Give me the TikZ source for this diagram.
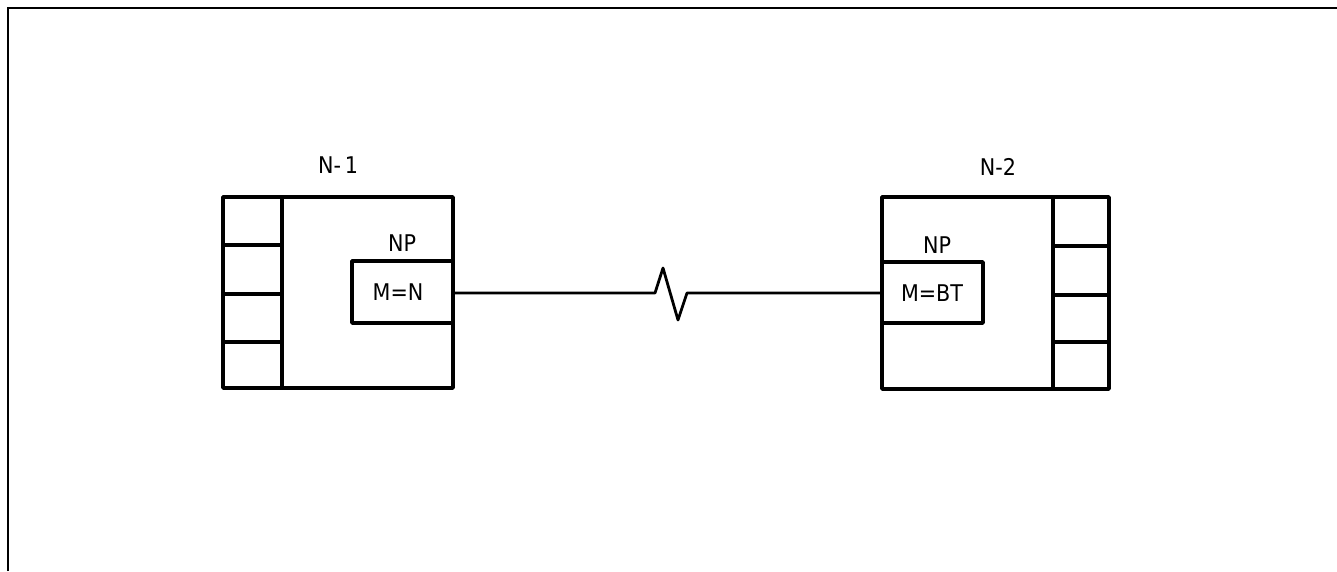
\documentclass[tikz,border=0pt]{standalone}
\usepackage{fontspec}
\setmainfont{DejaVu Sans Condensed}
\begin{document}
\begin{tikzpicture}[x=1pt,y=-1pt,
  frame/.style={line width=2.6pt},
  boxline/.style={line width=3.6pt,line join=round,line cap=round},
  lbl/.style={inner sep=0pt,font=\fontsize{23}{23}\selectfont},
  link/.style={line width=2.8pt,line join=round}]
\useasboundingbox (0,0) rectangle (1337,571);
% partial frame (top and left)
\draw[frame] (8,571) -- (8,8) -- (1337,8);
% left node N-1
\draw[boxline] (223,197) rectangle (453,388);
\draw[boxline] (282,197) -- (282,388);
\draw[boxline] (223,245) -- (282,245);
\draw[boxline] (223,294) -- (282,294);
\draw[boxline] (223,342) -- (282,342);
\node[draw,boxline,minimum width=101pt,minimum height=62pt,anchor=north west,outer sep=0pt] (np1) at (352,261) {};
\node[lbl] (m1) at (398,292) {M=N};
\node[lbl] (np1l) at (402,243) {NP};
\node[lbl] (n1) at (338,165) {N-\,1};
% right node N-2
\draw[boxline] (882,197) rectangle (1109,389);
\draw[boxline] (1053,197) -- (1053,389);
\draw[boxline] (1053,246) -- (1109,246);
\draw[boxline] (1053,295) -- (1109,295);
\draw[boxline] (1053,342) -- (1109,342);
\node[draw,boxline,minimum width=101pt,minimum height=61pt,anchor=north west,outer sep=0pt] (np2) at (882,262) {};
\node[lbl] (m2) at (932,293) {M=BT};
\node[lbl] (np2l) at (937,245) {NP};
\node[lbl] (n2) at (998,167) {N-2};
% link with zigzag
\coordinate (z1) at (655,293);
\coordinate (z2) at (663,268);
\coordinate (z3) at (678,320);
\coordinate (z4) at (687,293);
\draw[link] (np1.east |- 0,293) -- (z1) -- (z2) -- (z3) -- (z4) -- (np2.west |- 0,293);
\end{tikzpicture}
\end{document}
